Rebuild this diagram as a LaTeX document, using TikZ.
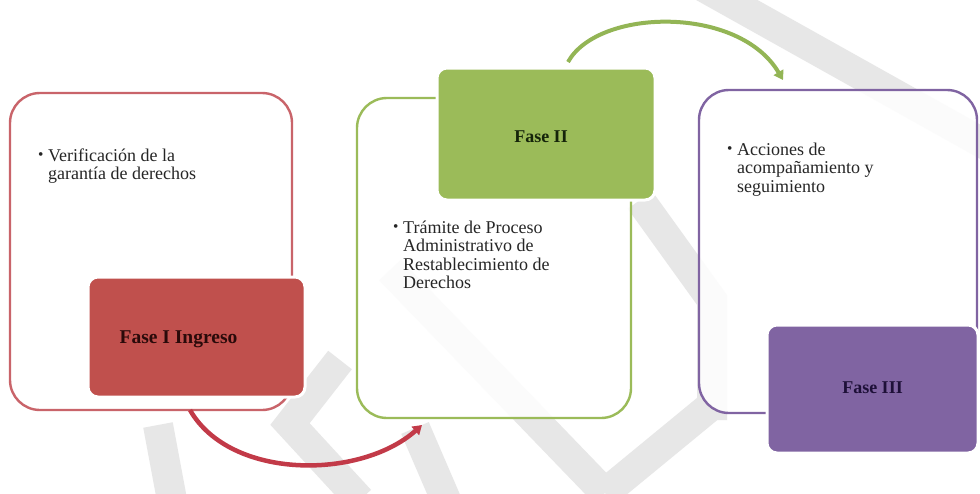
\documentclass[tikz,border=0pt]{standalone}
\usepackage{fontspec}
\setmainfont{Liberation Serif}
\usepackage{graphicx}
\usetikzlibrary{arrows.meta,calc}
\definecolor{rojo}{HTML}{C0504D}
\definecolor{rojoline}{HTML}{C9646A}
\definecolor{rojoarrow}{HTML}{C23A48}
\definecolor{verde}{HTML}{9BBB59}
\definecolor{verdearrow}{HTML}{93B555}
\definecolor{morado}{HTML}{8064A2}
\definecolor{textgray}{HTML}{262626}
\definecolor{wmark}{HTML}{E7E7E7}
\definecolor{lblrojo}{HTML}{2A0A0A}
\definecolor{lblverde}{HTML}{15240A}
\definecolor{lblmorado}{HTML}{1E1038}
\newcommand{\bul}{\makebox[10pt][l]{\raisebox{1.2pt}{\scalebox{0.85}{\textbullet}}}}
\tikzset{
  outerbox/.style={draw, line width=2.4pt, rounded corners=30pt, fill=white, fill opacity=0.85, draw opacity=1, outer sep=0pt, inner sep=0pt},
  fillbox/.style={draw=white, line width=3pt, rounded corners=10pt, outer sep=0pt, inner sep=0pt},
  bodytext/.style={anchor=base west, inner sep=0pt, text=textgray, font=\fontsize{18}{18.5}\selectfont},
  lbl/.style={inner sep=0pt, font=\fontsize{18}{20}\selectfont\bfseries},
  wm/.style={draw=wmark, line width=30pt, line cap=butt, line join=miter},
  conn/.style={line width=4.5pt}
}
\begin{document}
\begin{tikzpicture}[x=1pt, y=-1pt]
\useasboundingbox (0,0) rectangle (980,493);
\fill[white] (0,0) rectangle (980,493);
% watermark
\draw[wm] (700,-15) -- (995,150);
\draw[wm] (390,270) -- (605,493);
\draw[wm] (605,493) -- (712,405);
\draw[wm] (640,200) -- (712,300) -- (712,420);
\draw[wm] (340,360) -- (290,424) -- (360,500);
\draw[wm] (158,425) -- (172,500);
\draw[wm] (415,428) -- (446,500);
% outline boxes
\node[outerbox, draw=rojoline, minimum width=282pt, minimum height=317pt] (o1) at (151,251.5) {};
\node[outerbox, draw=verde, minimum width=274pt, minimum height=320pt] (o2) at (494,258) {};
\node[outerbox, draw=morado, minimum width=278pt, minimum height=323pt] (o3) at (838,251.5) {};
% filled boxes
\node[fillbox, fill=rojo, minimum width=217pt, minimum height=120pt] (f1) at (196.5,337) {};
\node[fillbox, fill=verde, minimum width=218pt, minimum height=132pt] (f2) at (546,134) {};
\node[fillbox, fill=morado, minimum width=211pt, minimum height=128pt] (f3) at (872.5,389) {};
% labels
\node[lbl, text=lblrojo, font=\fontsize{19.5}{20}\selectfont\bfseries] (l1) at ($(f1.center)+(-18,2)$) {Fase I Ingreso};
\node[lbl, text=lblverde] (l2) at ($(f2.center)+(-5,3)$) {Fase II};
\node[lbl, text=lblmorado] (l3) at ($(f3.center)+(0,-1)$) {Fase III};
% body texts
\node[bodytext] (t1) at ($(o1.north west)+(28,68)$) {\parbox[t]{240pt}{\hangindent=10pt\hangafter=1\bul Verificación de la\\garantía de derechos}};
\node[bodytext] (t2) at ($(o2.north west)+(36,135)$) {\parbox[t]{240pt}{\hangindent=10pt\hangafter=1\bul Trámite de Proceso\\Administrativo de\\Restablecimiento de\\Derechos}};
\node[bodytext] (t3) at ($(o3.north west)+(28,65)$) {\parbox[t]{240pt}{\hangindent=10pt\hangafter=1\bul Acciones de\\acompañamiento y\\seguimiento}};
% connectors
\coordinate (a1s) at ([xshift=39pt]o1.south);
\coordinate (a1e) at ([xshift=-72pt,yshift=-7pt]o2.south);
\draw[conn, draw=rojoarrow, -{Triangle[length=9pt,width=11pt]}] (a1s) .. controls ++(40,70) and ++(-62,55) .. (a1e);
\coordinate (a2s) at ([xshift=22pt,yshift=6pt]f2.north);
\coordinate (a2e) at ([xshift=-55pt,yshift=10pt]o3.north);
\draw[conn, line width=4pt, draw=verdearrow, -{Triangle[length=9pt,width=11pt]}] (a2s) .. controls ++(30,-54) and ++(-44,-75) .. (a2e);
\end{tikzpicture}
\end{document}
